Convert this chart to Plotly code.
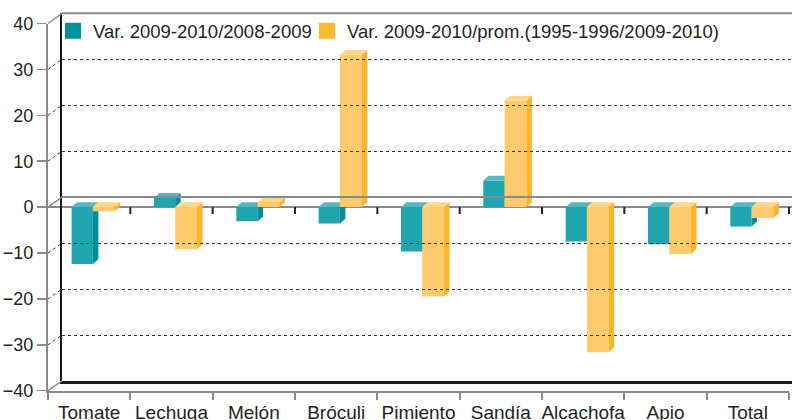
import plotly.graph_objects as go

# ---------------- data ----------------
categories = ["Tomate", "Lechuga", "Melón", "Bróculi", "Pimiento",
              "Sandía", "Alcachofa", "Apio", "Total"]
series_names = ["Var. 2009-2010/2008-2009",
                "Var. 2009-2010/prom.(1995-1996/2009-2010)"]
var_anual = [-12.4, 2.0, -3.1, -3.6, -9.7, 5.8, -7.5, -8.1, -4.2]
var_promedio = [-0.9, -9.2, 1.1, 33.2, -19.5, 23.2, -31.6, -10.2, -2.4]
y_ticks = [-40, -30, -20, -10, 0, 10, 20, 30, 40]

# ---------------- geometry / style ----------------
W, H = 792, 420
FRONT_L, FRONT_R, FRONT_T, FRONT_B = 48, 789, 23.5, 390.7
BACK_L, BACK_R, BACK_T, BACK_B = 62, 792, 13.3, 381
YMIN, YMAX = -40, 40
CAT_PX = (FRONT_R - FRONT_L) / len(categories)
PX_PER_UNIT = (FRONT_B - FRONT_T) / (YMAX - YMIN)
DX = 5.5 / CAT_PX          # 3-D depth, category units
DY = 4.8 / PX_PER_UNIT     # 3-D depth, value units

TEXT = "#231f20"
GRAY = "#8a8a8a"
FONT = "Liberation Sans, Arial, sans-serif"

styles = [
    dict(x0=-0.213, x1=0.045, front="#1fa5b0", side="#008e98", top="#5ab6be",
         legend="#00929b", legend_x=53),
    dict(x0=0.045, x1=0.310, front="#fdca6d", side="#fbb52a", top="#fed888",
         legend="#fdb92c", legend_x=307),
]


def px(x):
    return x / W


def py(y):
    return (H - y) / H


def yf(v):
    return FRONT_B - (v - YMIN) / (YMAX - YMIN) * (FRONT_B - FRONT_T)


def yb(v):
    return BACK_B - (v - YMIN) / (YMAX - YMIN) * (BACK_B - BACK_T)


fig = go.Figure()

# invisible trace so that the back-wall axes exist
fig.add_trace(go.Scatter(x=[None], y=[None], xaxis="x2", yaxis="y2",
                         showlegend=False, hoverinfo="skip"))

for values, st, name in zip([var_anual, var_promedio], styles, series_names):
    fx, fy, sx, sy, tx, ty = [], [], [], [], [], []
    for i, v in enumerate(values):
        xl, xr = i + st["x0"], i + st["x1"]
        lo, hi = min(0, v), max(0, v)
        fx += [xl, xr, xr, xl, xl, None]
        fy += [lo, lo, hi, hi, lo, None]
        sx += [xr, xr + DX, xr + DX, xr, xr, None]
        sy += [lo, lo + DY, hi + DY, hi, lo, None]
        tx += [xl, xr, xr + DX, xl + DX, xl, None]
        ty += [hi, hi, hi + DY, hi + DY, hi, None]
    fig.add_trace(go.Scatter(x=fx, y=fy, mode="none", fill="toself",
                             fillcolor=st["front"], showlegend=False,
                             name=name, hoverinfo="skip"))
    fig.add_trace(go.Scatter(x=sx, y=sy, mode="none", fill="toself",
                             fillcolor=st["side"], showlegend=False,
                             hoverinfo="skip"))
    fig.add_trace(go.Scatter(x=tx, y=ty, mode="none", fill="toself",
                             fillcolor=st["top"], showlegend=False,
                             hoverinfo="skip"))

# legend entries (one legend per series, for exact placement)
legend_keys = ["legend", "legend2"]
for st, name, lk in zip(styles, series_names, legend_keys):
    fig.add_trace(go.Scatter(x=[None], y=[None], mode="markers", name=name,
                             legend=lk, showlegend=True,
                             marker=dict(symbol="square", size=16, color=st["legend"])))

shapes = []
# top line of back wall
shapes.append(dict(type="line", xref="paper", yref="paper",
                   x0=px(BACK_L), x1=px(BACK_R), y0=py(BACK_T), y1=py(BACK_T),
                   line=dict(color=GRAY, width=2)))
# diagonals from front axis to back wall
for v in y_ticks:
    solid = v in (YMIN, 0, YMAX)
    shapes.append(dict(type="line", xref="paper", yref="paper",
                       x0=px(FRONT_L), y0=py(yf(v)), x1=px(BACK_L), y1=py(yb(v)),
                       line=dict(color=GRAY if solid else "#333333",
                                 width=1.5 if solid else 1,
                                 dash="solid" if solid else "3px,3px")))
# front zero line with ticks
shapes.append(dict(type="line", xref="paper", yref="paper", layer="below",
                   x0=px(FRONT_L), x1=px(W), y0=py(yf(0)), y1=py(yf(0)),
                   line=dict(color=GRAY, width=2)))
for k in range(1, len(categories) + 1):
    xk = FRONT_L + k * CAT_PX
    shapes.append(dict(type="line", xref="paper", yref="paper", layer="below",
                       x0=px(xk), x1=px(xk), y0=py(yf(0)), y1=py(yf(0) + 7),
                       line=dict(color="#222222", width=2)))

legend_common = dict(orientation="h", xanchor="left", yanchor="middle", y=py(31.3),
                     font=dict(size=18.5, color=TEXT, family=FONT),
                     bgcolor="rgba(0,0,0,0)", borderwidth=0,
                     itemclick=False, itemdoubleclick=False)

fig.update_layout(
    template="none",
    width=W, height=H,
    margin=dict(l=0, r=0, t=0, b=0, pad=0),
    paper_bgcolor="white", plot_bgcolor="rgba(0,0,0,0)",
    font=dict(family=FONT, color=TEXT),
    showlegend=True,
    legend=dict(x=px(styles[0]["legend_x"]), **legend_common),
    legend2=dict(x=px(styles[1]["legend_x"]), **legend_common),
    xaxis=dict(domain=[px(FRONT_L), px(FRONT_R)], range=[-0.5, len(categories) - 0.5],
               tickmode="array", tickvals=list(range(len(categories))), ticktext=categories,
               ticks="", showgrid=False, zeroline=False, automargin=False,
               showline=True, linecolor=GRAY, linewidth=2,
               minor=dict(ticks="outside", tick0=-0.5, dtick=1, ticklen=7,
                          tickcolor=GRAY, tickwidth=2, showgrid=False),
               tickfont=dict(size=19, color=TEXT, family=FONT),
               ticklabelstandoff=3,
               fixedrange=True, anchor="y"),
    yaxis=dict(domain=[py(FRONT_B), py(FRONT_T)], range=[YMIN, YMAX],
               tickmode="array", tickvals=y_ticks,
               ticks="outside", ticklen=9, tickcolor=GRAY, tickwidth=1.5,
               showgrid=False, zeroline=False, automargin=False,
               showline=True, linecolor=GRAY, linewidth=2,
               tickfont=dict(size=18, color=TEXT, family=FONT),
               fixedrange=True, anchor="x"),
    xaxis2=dict(domain=[px(BACK_L), 1], range=[0, 1], anchor="y2", automargin=False,
                showticklabels=False, ticks="", showgrid=False, zeroline=False,
                showline=True, linecolor="#1a1a1a", linewidth=2.5, fixedrange=True),
    yaxis2=dict(domain=[py(BACK_B), py(BACK_T)], range=[YMIN, YMAX], anchor="x2",
                automargin=False,
                tickmode="array", tickvals=[t for t in y_ticks if t not in (YMIN, 0, YMAX)],
                showticklabels=False, ticks="",
                showgrid=True, gridcolor="#333333", gridwidth=1, griddash="3px,3px",
                zeroline=True, zerolinecolor=GRAY, zerolinewidth=2,
                showline=True, linecolor="#1a1a1a", linewidth=2.5, fixedrange=True),
    shapes=shapes,
)

fig.write_html("out.html",
               config={"displayModeBar": False, "staticPlot": True},
               post_script="document.body.style.margin='0';document.body.style.overflow='hidden';")
